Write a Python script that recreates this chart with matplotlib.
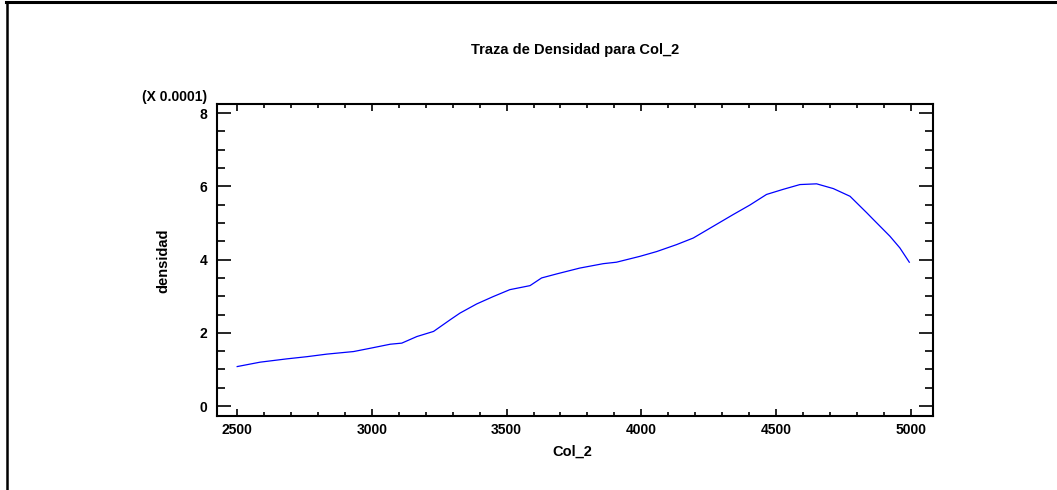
import matplotlib
matplotlib.use("Agg")
import matplotlib.pyplot as plt
from matplotlib.lines import Line2D
from matplotlib.ticker import MultipleLocator

plt.rcParams['font.family'] = ['Liberation Sans', 'DejaVu Sans']

# densidad (x 0.0001)
col2 = [2500, 2585, 2684, 2759, 2833, 2932, 2994, 3068, 3111, 3167, 3229, 3291,
        3327, 3389, 3450, 3512, 3587, 3630, 3686, 3772, 3859, 3908, 3995, 4057,
        4131, 4193, 4267, 4341, 4403, 4465, 4527, 4589, 4651, 4713, 4775, 4837,
        4861, 4923, 4960, 4995]
densidad = [1.08, 1.20, 1.29, 1.35, 1.42, 1.49, 1.58, 1.69, 1.72, 1.90, 2.04, 2.36,
            2.54, 2.79, 2.99, 3.18, 3.29, 3.50, 3.61, 3.77, 3.89, 3.93, 4.09, 4.22,
            4.41, 4.59, 4.91, 5.23, 5.49, 5.78, 5.92, 6.05, 6.07, 5.94, 5.73, 5.28,
            5.10, 4.64, 4.32, 3.93]

W, H = 1057, 490
fig = plt.figure(figsize=(W / 100, H / 100), dpi=100)

# marco exterior (solo arriba e izquierda)
fig.add_artist(Line2D([7 / W, 7 / W], [0, 1 - 2 / H], transform=fig.transFigure, color='black', lw=1.8))
fig.add_artist(Line2D([6 / W, 1], [1 - 2.5 / H, 1 - 2.5 / H], transform=fig.transFigure, color='black', lw=2.2))

left, right, top, bottom = 217, 933, 104, 416
ax = fig.add_axes([left / W, (H - bottom) / H, (right - left) / W, (bottom - top) / H])

ax.plot(col2, densidad, color='#0000ff', lw=0.9)

ax.set_xlim(2425, 5083)
ax.set_ylim(-0.27, 8.25)
ax.xaxis.set_major_locator(MultipleLocator(500))
ax.xaxis.set_minor_locator(MultipleLocator(100))
ax.yaxis.set_major_locator(MultipleLocator(2))
ax.yaxis.set_minor_locator(MultipleLocator(0.5))

for s in ax.spines.values():
    s.set_linewidth(1.5)

ax.tick_params(axis='x', which='both', direction='in', top=True, width=1.2)
ax.tick_params(axis='x', which='major', length=5, pad=5)
ax.tick_params(axis='x', which='minor', length=3.2)
ax.tick_params(axis='y', which='both', direction='in', right=True, width=1.2)
ax.tick_params(axis='y', which='major', length=10, pad=7)
ax.tick_params(axis='y', which='minor', length=6)

for lab in ax.get_xticklabels() + ax.get_yticklabels():
    lab.set_fontweight('bold')
    lab.set_fontsize(10)

fig.text(575 / W, 1 - 50 / H, "Traza de Densidad para Col_2", ha='center', va='center',
         fontsize=10.5, fontweight='bold')
fig.text(572 / W, 1 - 452 / H, "Col_2", ha='center', va='center', fontsize=10.5, fontweight='bold')
fig.text(163 / W, 1 - 261 / H, "densidad", ha='center', va='center', rotation=90,
         fontsize=10.5, fontweight='bold')
fig.text(207 / W, 1 - 97 / H, "(X 0.0001)", ha='right', va='center', fontsize=10, fontweight='bold')

fig.savefig("out.png", dpi=100)
